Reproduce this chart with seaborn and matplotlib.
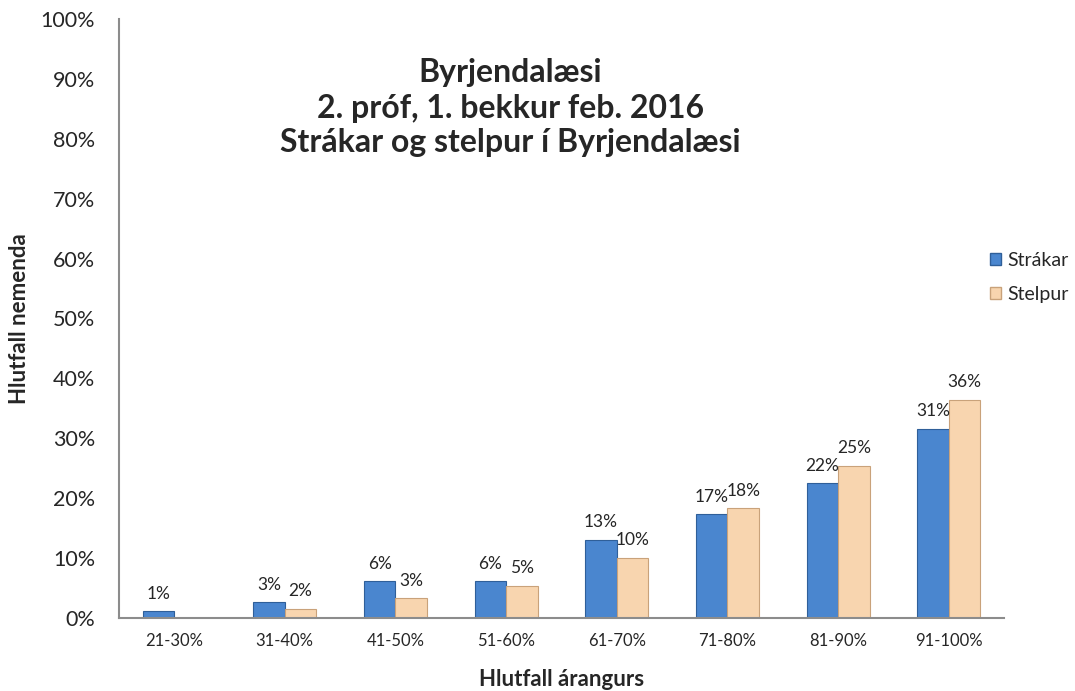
import numpy as np
import pandas as pd
import matplotlib
matplotlib.use("Agg")
import matplotlib.pyplot as plt
import seaborn as sns

# data (percent of students)
categories = ["21-30%", "31-40%", "41-50%", "51-60%", "61-70%", "71-80%", "81-90%", "91-100%"]
strakar = [1.1, 2.6, 6.1, 6.1, 13.1, 17.3, 22.5, 31.6]
stelpur = [0.0, 1.5, 3.3, 5.4, 10.0, 18.3, 25.4, 36.4]
strakar_labels = ["1%", "3%", "6%", "6%", "13%", "17%", "22%", "31%"]
stelpur_labels = ["", "2%", "3%", "5%", "10%", "18%", "25%", "36%"]
series = ["Strákar", "Stelpur"]
title_lines = ["Byrjendalæsi", "2. próf, 1. bekkur feb. 2016", "Strákar og stelpur í Byrjendalæsi"]
colors = ["#4A86CF", "#F8D5AF"]
edges = ["#2F5F99", "#C9A27A"]

df = pd.DataFrame({
    "cat": categories * 2,
    "val": strakar + stelpur,
    "kyn": [series[0]] * len(categories) + [series[1]] * len(categories),
})

sns.set_style("white")
plt.rcParams["font.family"] = ["Lato", "DejaVu Sans"]

fig = plt.figure(figsize=(10.75, 6.91), dpi=100)
ax = fig.add_axes([0.1105, 0.1056, 0.8235, 0.867])

sns.barplot(data=df, x="cat", y="val", hue="kyn", palette=colors,
            width=0.57, ax=ax, legend=False, saturation=1)

for cont, ec, labs in zip(ax.containers, edges, [strakar_labels, stelpur_labels]):
    for bar in cont:
        bar.set_edgecolor(ec)
        bar.set_linewidth(0.8)
    ax.bar_label(cont, labels=labs, padding=7, fontsize=12.5)

ax.set_ylim(0, 100)
ax.set_xlim(-0.5, len(categories) - 0.5)
ax.set_yticks(np.arange(0, 101, 10))
ax.set_yticklabels([f"{v}%" for v in range(0, 101, 10)], fontsize=15.5)
ax.set_xticks(range(len(categories)))
ax.set_xticklabels(categories, fontsize=12)
ax.set_xticks(np.arange(-0.5, len(categories), 1), minor=True)
ax.tick_params(axis="x", which="major", length=0, pad=11)
ax.tick_params(axis="x", which="minor", length=5, color="#8c8c8c", width=1.5)
ax.tick_params(axis="y", length=5, color="#8c8c8c", width=1.5, pad=12)

sns.despine(ax=ax)
for s in ["left", "bottom"]:
    ax.spines[s].set_color("#8c8c8c")
    ax.spines[s].set_linewidth(1.5)

ax.set_xlabel("Hlutfall árangurs", fontsize=16, fontweight="bold", labelpad=14)
ax.set_ylabel("Hlutfall nemenda", fontsize=16, fontweight="bold", labelpad=8)

for line, ypos in zip(title_lines, [0.910, 0.851, 0.793]):
    ax.text(0.442, ypos, line, transform=ax.transAxes, ha="center", va="center",
            fontsize=23, fontweight="bold")

handles = [plt.Rectangle((0, 0), 1, 1, facecolor=c, edgecolor=e) for c, e in zip(colors, edges)]
fig.legend(handles, series, loc="upper left", bbox_to_anchor=(990 / 1075, 1 - 252 / 691),
           frameon=False, fontsize=14, handlelength=0.55, handleheight=0.55,
           handletextpad=0.35, labelspacing=0.85, borderpad=0, borderaxespad=0)

fig.savefig("out.png", dpi=100)
